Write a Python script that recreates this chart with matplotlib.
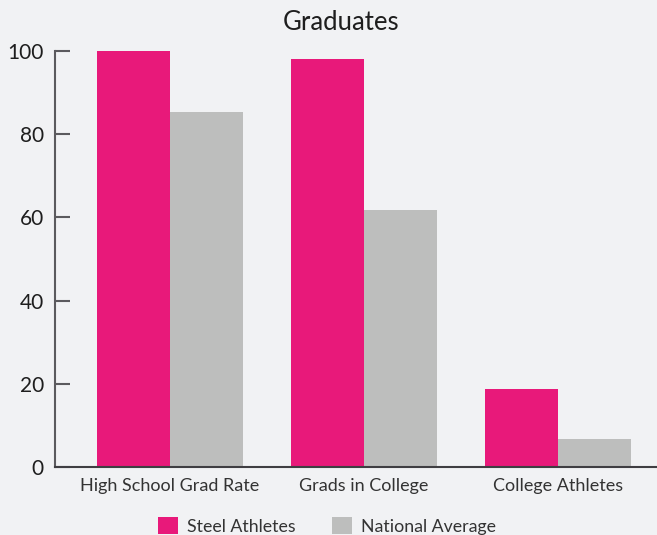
import matplotlib
matplotlib.use("Agg")
import matplotlib.pyplot as plt
import numpy as np
from matplotlib.patches import Patch

categories = ["High School Grad Rate", "Grads in College", "College Athletes"]
steel_athletes = [100, 98, 18.8]
national_average = [85.4, 61.8, 6.8]
series_names = ["Steel Athletes", "National Average"]
y_ticks = [0, 20, 40, 60, 80, 100]

pink = "#e8197a"
grey = "#bdbebd"
bg = "#f1f2f4"
axis_col = "#5b5a5e"
text_col = "#1e1e1e"

plt.rcParams["font.family"] = ["Lato", "DejaVu Sans"]

fig = plt.figure(figsize=(6.57, 5.35), dpi=100, facecolor=bg)
ax = fig.add_axes([55 / 657, 68 / 535, 618 / 657, 416 / 535])
ax.set_facecolor(bg)

x = np.arange(len(categories))
w = 0.376
ax.bar(x - w / 2, steel_athletes, width=w, color=pink, label=series_names[0])
ax.bar(x + w / 2, national_average, width=w, color=grey, label=series_names[1])

ax.set_xlim(-0.593, 2.593)
ax.set_ylim(0, 100)
ax.set_yticks(y_ticks)
ax.set_xticks(x)
ax.set_xticklabels(categories, fontsize=13, color="#333333")
ax.tick_params(axis="y", direction="in", length=11, width=1.5, color=axis_col,
               labelsize=15, labelcolor=text_col, pad=8)
ax.tick_params(axis="x", length=0, pad=8)

for s in ["top", "right"]:
    ax.spines[s].set_visible(False)
ax.spines["left"].set_color(axis_col)
ax.spines["left"].set_linewidth(1.5)
ax.spines["bottom"].set_color("#3f3e42")
ax.spines["bottom"].set_linewidth(1.5)

fig.text(341 / 657, 1 - 23 / 535, "Graduates", ha="center", va="center",
         fontsize=18.5, color=text_col)

handles = [Patch(facecolor=pink, edgecolor="none"), Patch(facecolor=grey, edgecolor="none")]
fig.legend(handles, series_names, loc="center", bbox_to_anchor=(327 / 657, 1 - 526 / 535),
           ncol=2, frameon=False, fontsize=12.8, handlelength=1.1, handleheight=1.1,
           handletextpad=0.5, columnspacing=2.1, labelcolor="#333333")

fig.savefig("out.png", dpi=100, facecolor=bg)
